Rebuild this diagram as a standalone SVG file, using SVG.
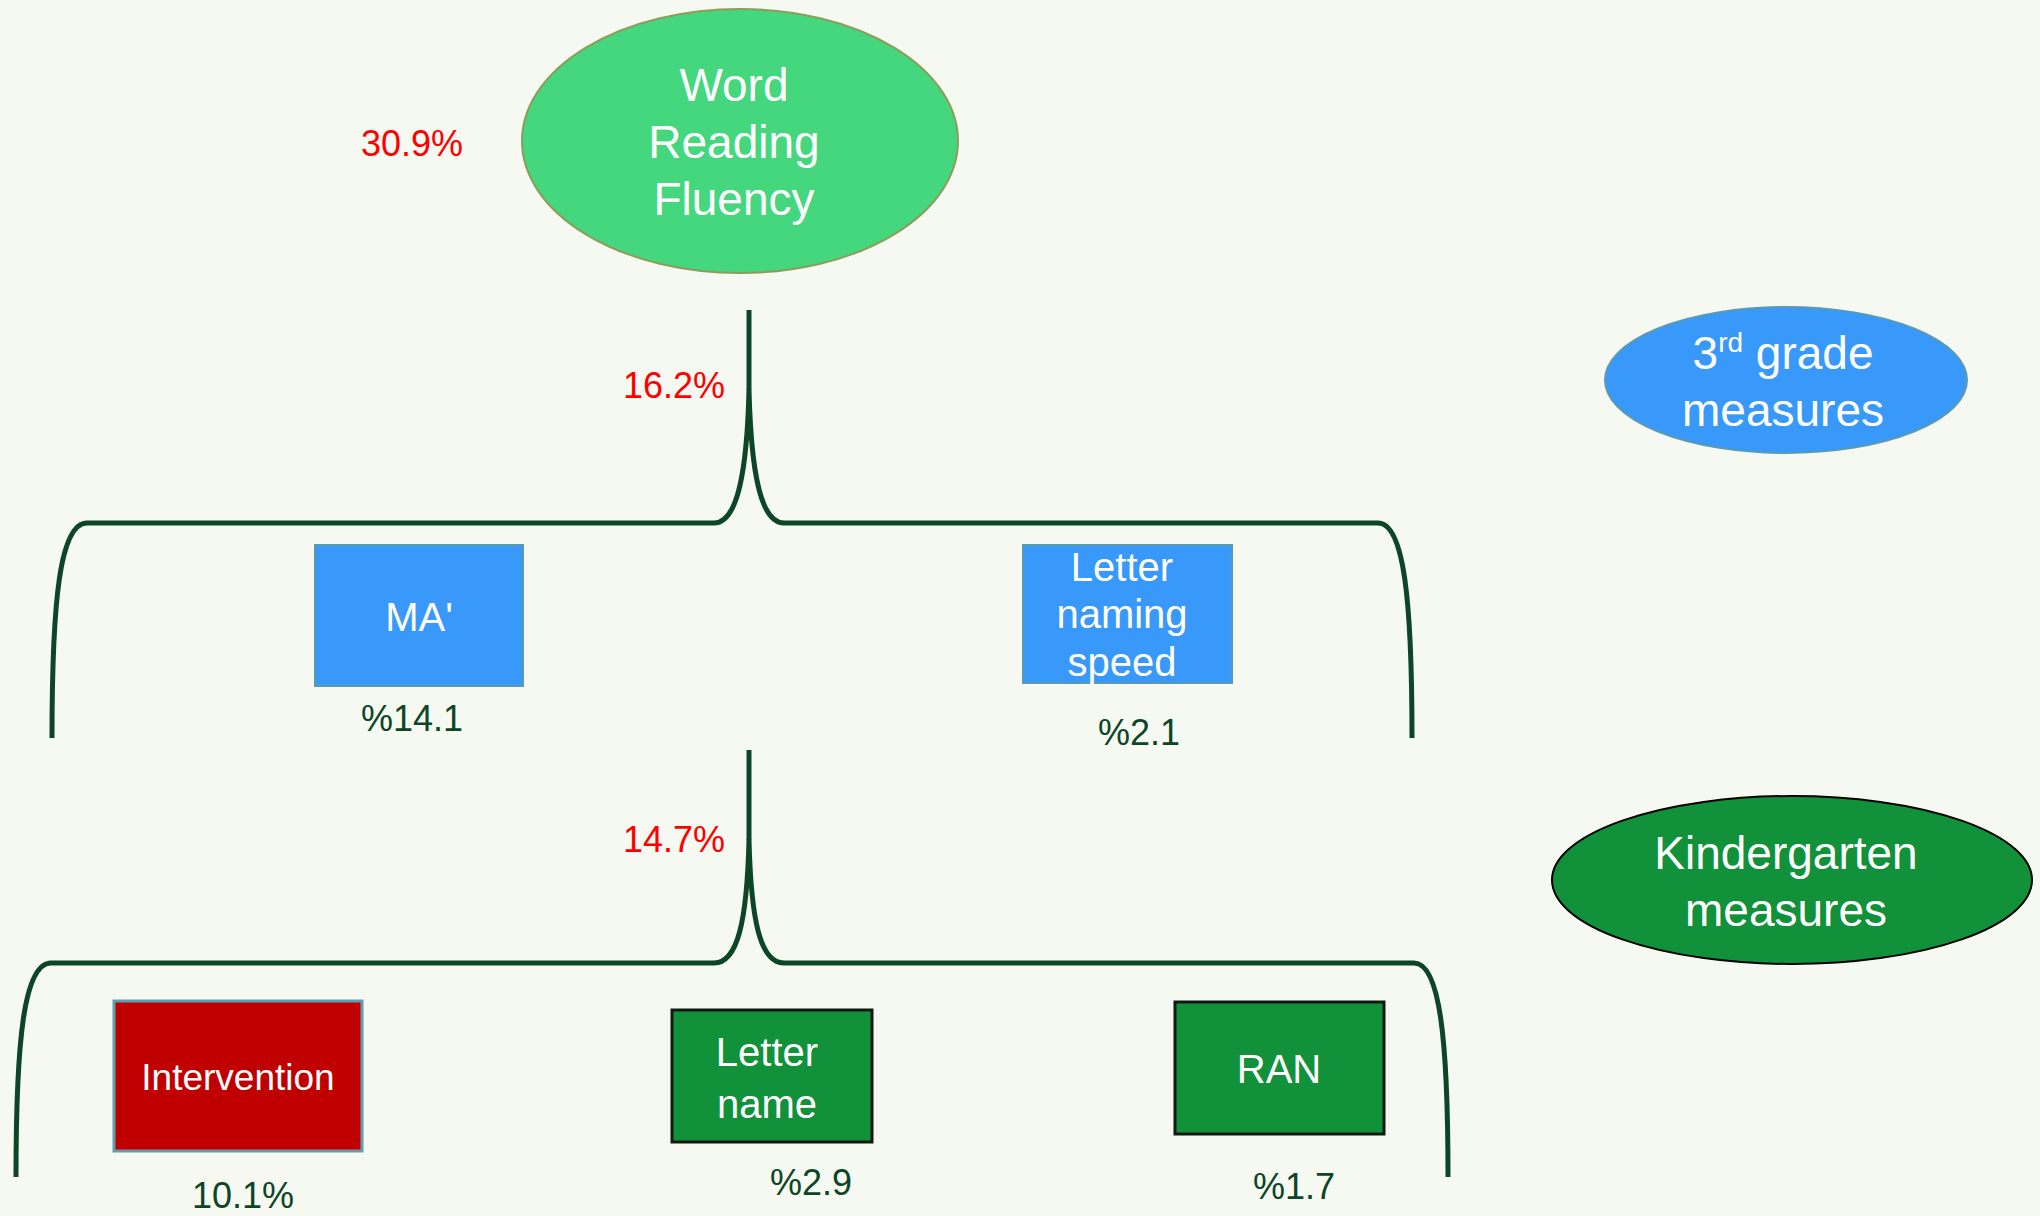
<svg xmlns="http://www.w3.org/2000/svg" width="2040" height="1216" viewBox="0 0 2040 1216">
<style>
.t{font-family:"Liberation Sans",Arial,sans-serif;text-anchor:middle}
.w{fill:#ffffff}
.pct{fill:#0D4527;font-size:36px}
.red{fill:#FF0000;font-size:36px;font-family:"Liberation Sans",Arial,sans-serif}
.brace{fill:none;stroke:#0D4527;stroke-width:5;stroke-linejoin:round}
.blue{fill:#3899FA;stroke:#5A9AB0;stroke-width:2}
.green{fill:#10913A;stroke:#111a11;stroke-width:3}
</style>
<rect x="0" y="0" width="2040" height="1216" fill="#F6F9F1"/>
<g id="connectors">
<path class="brace" d="M52,738 C52,600 60,523 87,523 L714,523 C738,523 747,470 749,390 C751,470 760,523 784,523 L1378,523 C1404,523 1412,600 1412,738"/>
<path class="brace" d="M749,310 V390"/>
<path class="brace" d="M16,1177 C16,1040 24,963 51,963 L714,963 C738,963 747,920 749,840 C751,920 760,963 784,963 L1414,963 C1440,963 1448,1040 1448,1177"/>
<path class="brace" d="M749,750 V840"/>
</g>
<g id="word-reading-fluency">
<ellipse cx="740" cy="141" rx="218" ry="132" fill="#45D77D" stroke="#8B9D5B" stroke-width="2"/>
<text class="t w" font-size="46"><tspan x="734" y="101">Word</tspan><tspan x="734" y="158">Reading</tspan><tspan x="734" y="215">Fluency</tspan></text>
</g>
<text class="red" x="412" y="156" text-anchor="middle">30.9%</text>
<text class="red" x="725" y="398" text-anchor="end">16.2%</text>
<text class="red" x="725" y="852" text-anchor="end">14.7%</text>
<g id="ma">
<rect class="blue" x="315" y="545" width="208" height="141"/>
<text class="t w" x="419" y="631" font-size="40">MA'</text>
<text class="t pct" x="412" y="731">%14.1</text>
</g>
<g id="letter-naming-speed">
<rect class="blue" x="1023" y="545" width="209" height="138"/>
<text class="t w" font-size="40"><tspan x="1122" y="581">Letter</tspan><tspan x="1122" y="628">naming</tspan><tspan x="1122" y="676">speed</tspan></text>
<text class="t pct" x="1139" y="745">%2.1</text>
</g>
<g id="intervention">
<rect x="114" y="1001" width="248" height="150" fill="#C00000" stroke="#5F9EAE" stroke-width="3"/>
<text class="t w" x="238" y="1090" font-size="37">Intervention</text>
<text class="t pct" x="243" y="1208">10.1%</text>
</g>
<g id="letter-name">
<rect class="green" x="672" y="1010" width="200" height="132"/>
<text class="t w" font-size="40"><tspan x="767" y="1066">Letter</tspan><tspan x="767" y="1118">name</tspan></text>
<text class="t pct" x="811" y="1195">%2.9</text>
</g>
<g id="ran">
<rect class="green" x="1175" y="1002" width="209" height="132"/>
<text class="t w" x="1279" y="1083" font-size="40">RAN</text>
<text class="t pct" x="1294" y="1199">%1.7</text>
</g>
<g id="third-grade-measures">
<ellipse cx="1786" cy="380" rx="181" ry="73" fill="#3899FA" stroke="#5A9AB0" stroke-width="2"/>
<text class="t w" font-size="46"><tspan x="1783" y="369">3<tspan font-size="28" dy="-17">rd</tspan><tspan dy="17"> grade</tspan></tspan><tspan x="1783" y="426">measures</tspan></text>
</g>
<g id="kindergarten-measures">
<ellipse cx="1792" cy="880" rx="240" ry="84" fill="#10913A" stroke="#000000" stroke-width="2"/>
<text class="t w" font-size="46"><tspan x="1786" y="869">Kindergarten</tspan><tspan x="1786" y="926">measures</tspan></text>
</g>
</svg>
